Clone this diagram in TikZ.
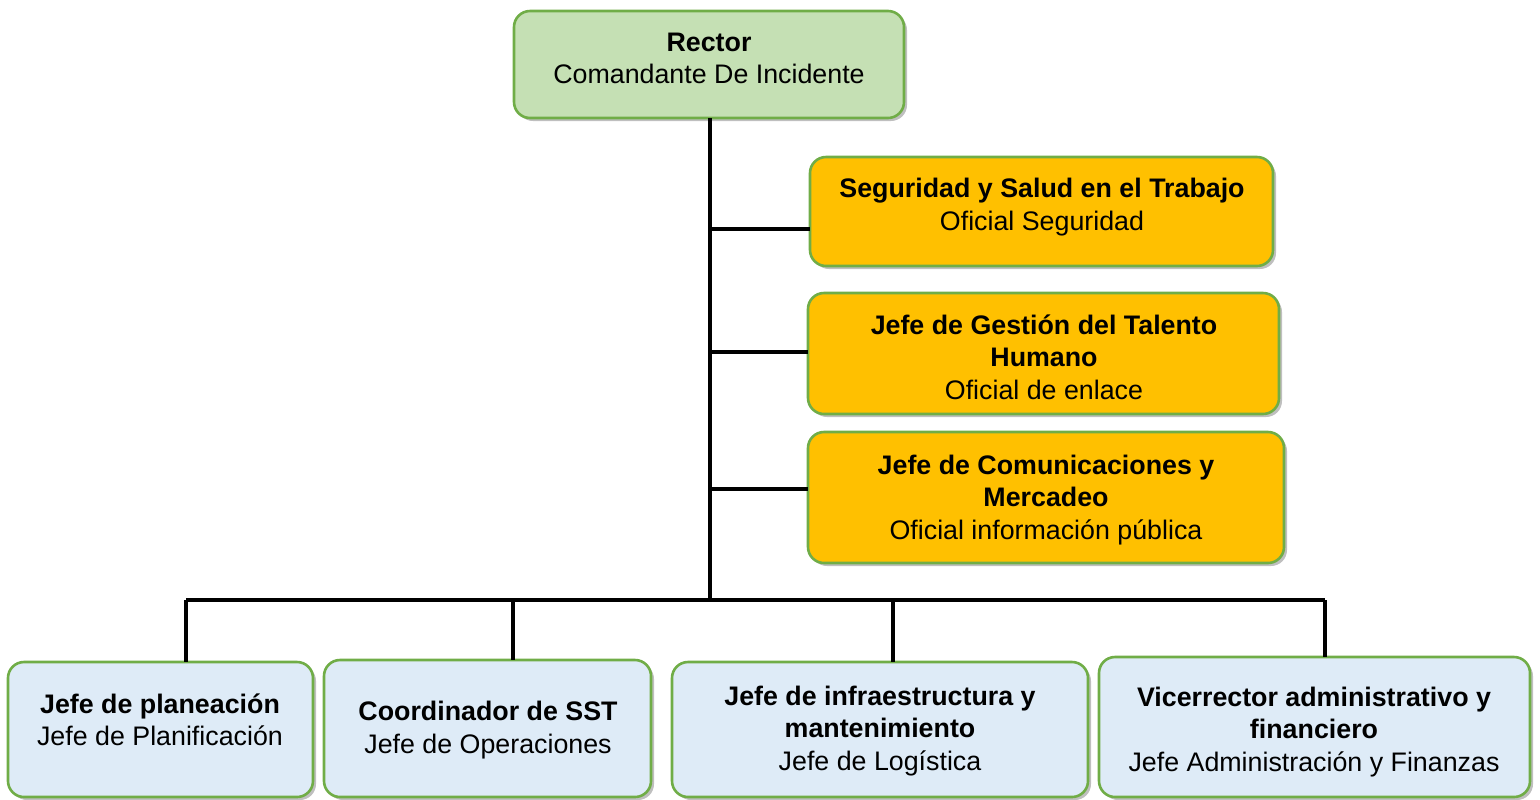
\documentclass[tikz,border=0pt]{standalone}
\usepackage{fontspec}
\setmainfont{Liberation Sans}
\usetikzlibrary{shadows}
\definecolor{rgreen}{HTML}{C5E0B4}
\definecolor{rborder}{HTML}{70AD47}
\definecolor{rorange}{HTML}{FFC000}
\definecolor{rblue}{HTML}{DEEBF7}
\begin{document}
\begin{tikzpicture}[x=0.5pt,y=-0.5pt,
  box/.style={draw=rborder, line width=1.3pt, rounded corners=8pt, inner sep=0pt, outer sep=0pt,
    drop shadow={shadow xshift=1.5pt, shadow yshift=-1.5pt, opacity=0.25, fill=black}},
  greenbox/.style={box, fill=rgreen},
  orangebox/.style={box, fill=rorange},
  bluebox/.style={box, fill=rblue},
  label/.style={align=center, font=\fontsize{13.4}{16.2}\selectfont, inner sep=0pt},
  conn/.style={line width=1.6pt, black}]
\useasboundingbox (0,0) rectangle (1540,799);
% boxes
\node[greenbox, minimum width=195pt, minimum height=53.5pt] (rector) at (709,64.5) {};
\node[orangebox, minimum width=231.5pt, minimum height=54.5pt] (seg) at (1041.5,211.5) {};
\node[orangebox, minimum width=235.5pt, minimum height=60.5pt] (gest) at (1043.5,353.5) {};
\node[orangebox, minimum width=238pt, minimum height=65.5pt] (com) at (1046,497.5) {};
\node[bluebox, minimum width=152.5pt, minimum height=67.5pt] (plan) at (160.5,729.5) {};
\node[bluebox, minimum width=163.5pt, minimum height=68.5pt] (coord) at (487.5,728.5) {};
\node[bluebox, minimum width=208pt, minimum height=67.5pt] (infra) at (880,729.5) {};
\node[bluebox, minimum width=215.5pt, minimum height=70pt] (vice) at (1314.5,727) {};
% texts
\node[label] (trector) at (709,58.5) {\textbf{Rector}\\Comandante De Incidente};
\node[label] (tseg) at (1042,207) {\textbf{Seguridad y Salud en el Trabajo}\\Oficial Seguridad};
\node[label] (tgest) at (1044,357) {\textbf{Jefe de Gestión del Talento}\\\textbf{Humano}\\Oficial de enlace};
\node[label] (tcom) at (1046,500) {\textbf{Jefe de Comunicaciones y}\\\textbf{Mercadeo}\\Oficial información pública};
\node[label] (tplan) at (160,720) {\textbf{Jefe de planeación}\\Jefe de Planificación};
\node[label] (tcoord) at (488,730) {\textbf{Coordinador de SST}\\Jefe de Operaciones};
\node[label] (tinfra) at (880,731) {\textbf{Jefe de infraestructura y}\\\textbf{mantenimiento}\\Jefe de Logística};
\node[label] (tvice) at (1314,732) {\textbf{Vicerrector administrativo y}\\\textbf{financiero}\\Jefe Administración y Finanzas};
% connectors
\coordinate (bus) at (710,600);
\coordinate (j1) at (710,229);
\coordinate (j2) at (710,352);
\coordinate (j3) at (710,489);
\coordinate (busL) at (186,600);
\coordinate (busR) at (1325,600);
\coordinate (d2) at (513,600);
\coordinate (d3) at (893,600);
\draw[conn] (rector.south -| bus) -- (bus);
\draw[conn] (j1) -- (j1 -| seg.west);
\draw[conn] (j2) -- (j2 -| gest.west);
\draw[conn] (j3) -- (j3 -| com.west);
\draw[conn] (busL) -- (busR);
\draw[conn] (busL) -- (busL |- plan.north);
\draw[conn] (d2) -- (d2 |- coord.north);
\draw[conn] (d3) -- (d3 |- infra.north);
\draw[conn] (busR) -- (busR |- vice.north);
\end{tikzpicture}
\end{document}
